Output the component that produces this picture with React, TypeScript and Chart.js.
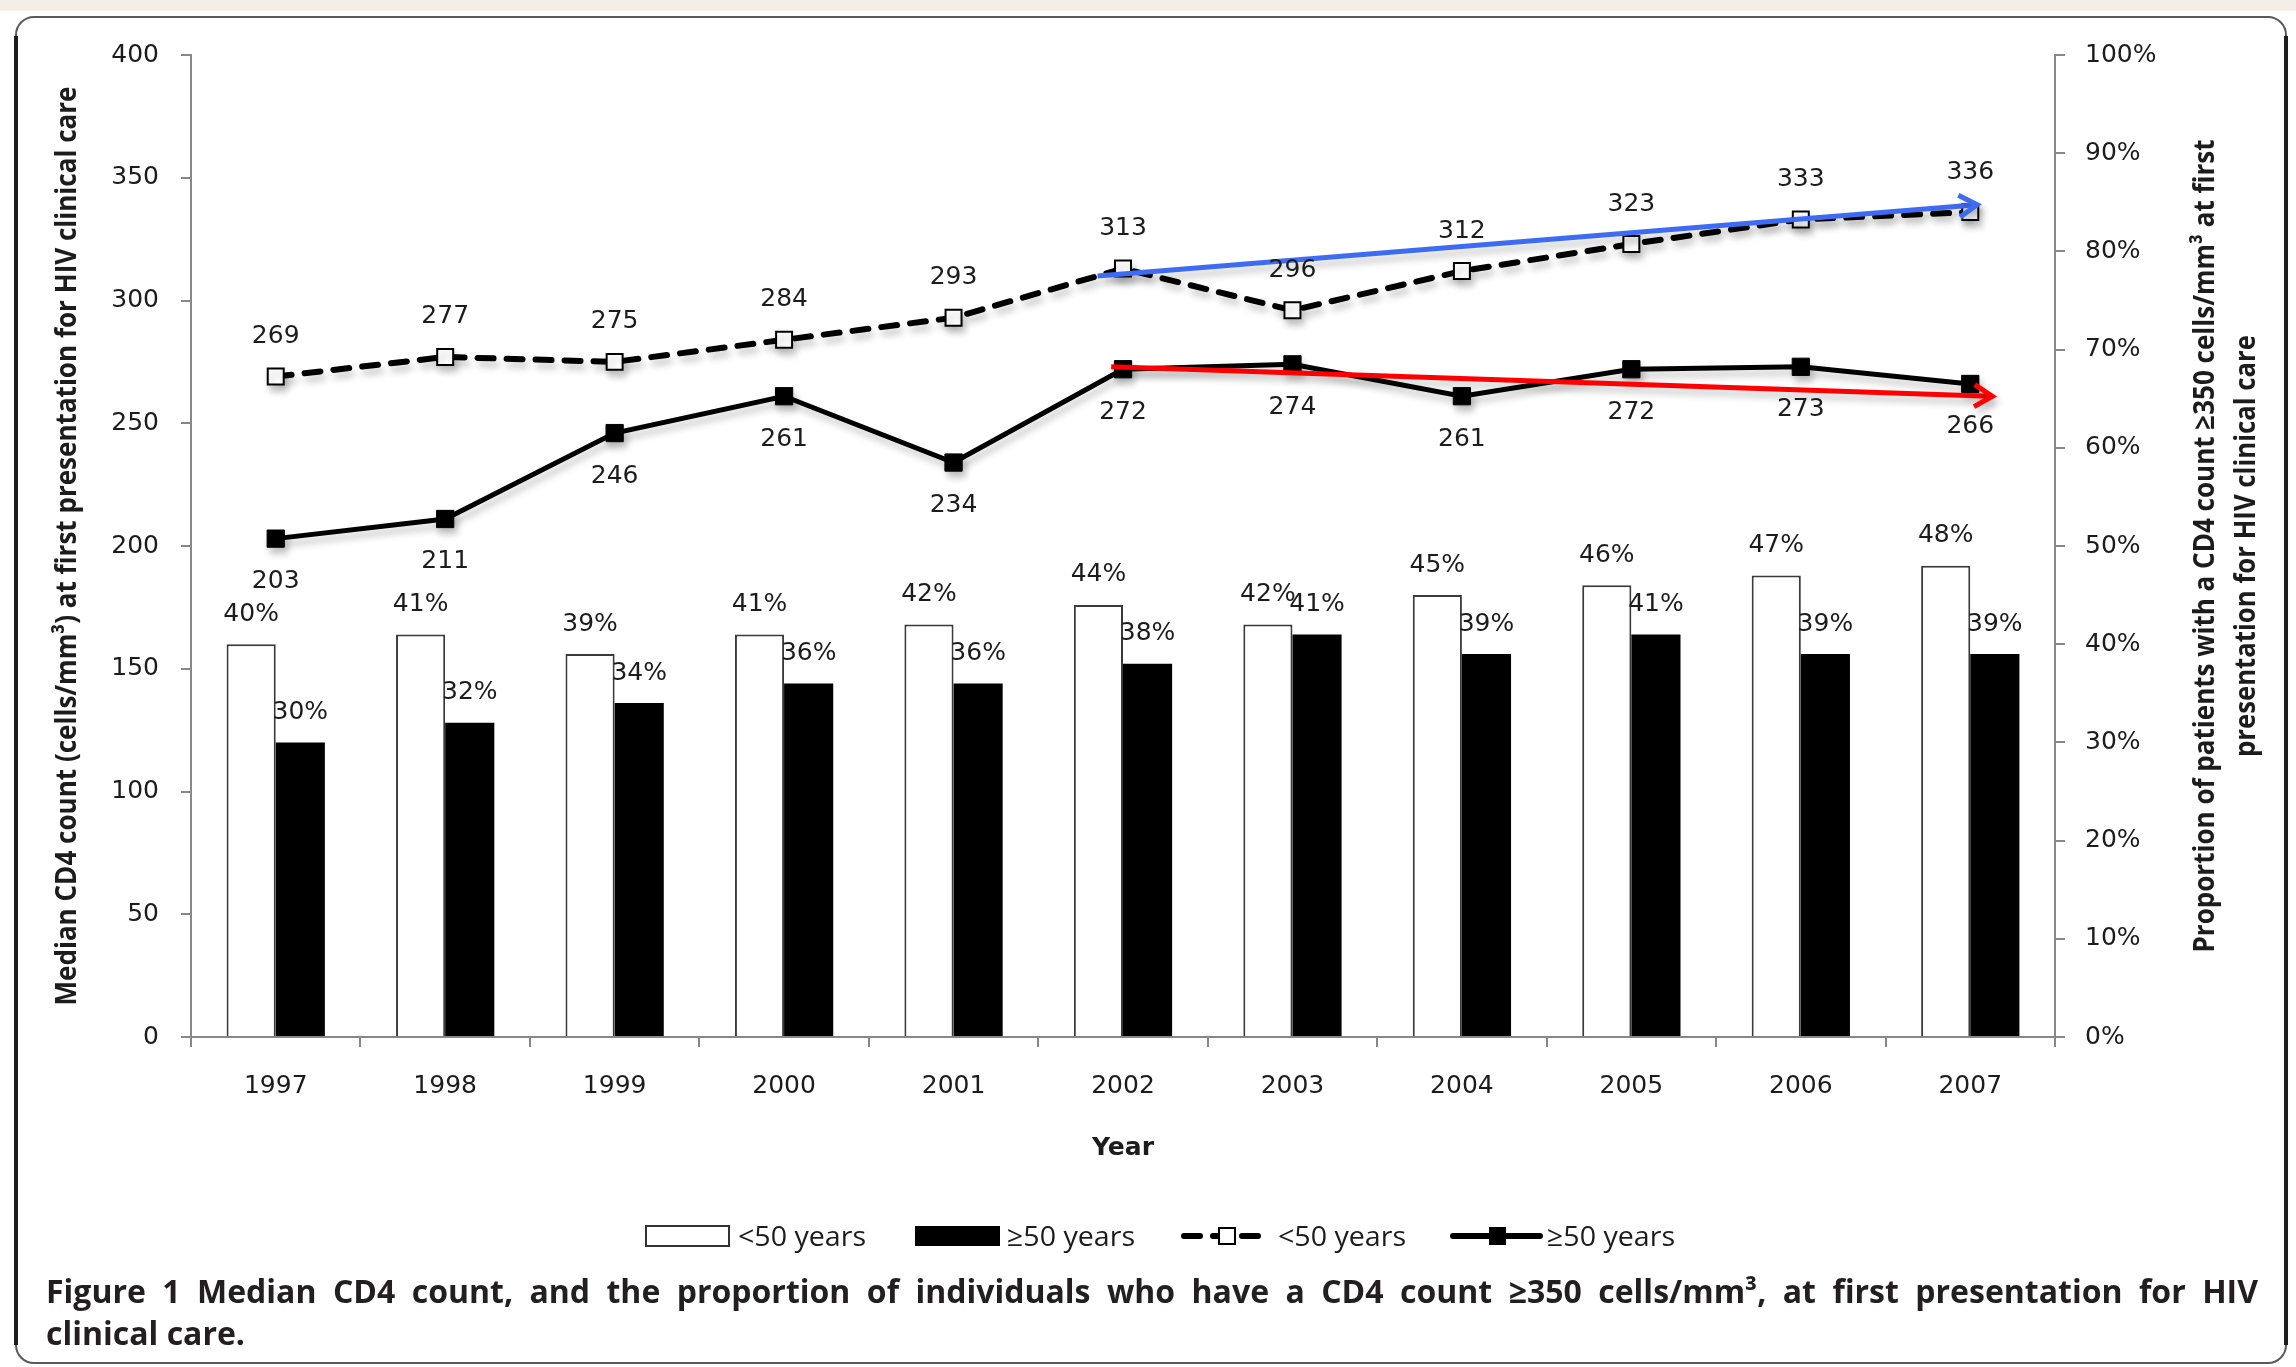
import { useEffect, useRef } from 'react';
import { Chart, registerables } from 'chart.js';

Chart.register(...registerables);

const W = 2296;
const H = 1367;

// Data
const years = ['1997', '1998', '1999', '2000', '2001', '2002', '2003', '2004', '2005', '2006', '2007'];
const pctUnder50 = [40, 41, 39, 41, 42, 44, 42, 45, 46, 47, 48];
const pctOver50 = [30, 32, 34, 36, 36, 38, 41, 39, 41, 39, 39];
const cd4Under50 = [269, 277, 275, 284, 293, 313, 296, 312, 323, 333, 336];
const cd4Over50 = [203, 211, 246, 261, 234, 272, 274, 261, 272, 273, 266];
// Trend arrows: [category index, median CD4] at start and end
const trendUnder50 = [[4.85, 310], [10.04, 339]];
const trendOver50 = [[4.93, 273], [10.13, 261]];

const legendLabels = ['<50 years', '≥50 years', '<50 years', '≥50 years'];
const leftTitle = 'Median CD4 count (cells/mm³) at first presentation for HIV clinical care';
const rightTitleLines = ['Proportion of patients with a CD4 count ≥350 cells/mm³ at first', 'presentation for HIV clinical care'];
const xTitle = 'Year';
const captionLines = [
  'Figure 1 Median CD4 count, and the proportion of individuals who have a CD4 count ≥350 cells/mm³, at first presentation for HIV',
  'clinical care.',
];

const TEXT = '#1c1c1c';
const AXIS = '#878787';
const TICK_FONT = '"DejaVu Sans", sans-serif';
const DASH = [16, 13];

function fitRotated(ctx: CanvasRenderingContext2D, text: string, cx: number, cy: number, len: number) {
  ctx.save();
  ctx.translate(cx, cy);
  ctx.rotate(-Math.PI / 2);
  const w = ctx.measureText(text).width;
  ctx.scale(len / w, 1);
  ctx.textAlign = 'center';
  ctx.textBaseline = 'middle';
  ctx.fillText(text, 0, 0);
  ctx.restore();
}

function fitLeft(ctx: CanvasRenderingContext2D, text: string, x: number, y: number, len: number) {
  ctx.save();
  ctx.translate(x, y);
  const w = ctx.measureText(text).width;
  ctx.scale(len / w, 1);
  ctx.textAlign = 'left';
  ctx.fillText(text, 0, 0);
  ctx.restore();
}

function justify(ctx: CanvasRenderingContext2D, text: string, x: number, y: number, len: number) {
  const words = text.split(' ');
  const widths = words.map((wd) => ctx.measureText(wd).width);
  const total = widths.reduce((a, b) => a + b, 0);
  const space = ctx.measureText(' ').width;
  const natural = total + space * (words.length - 1);
  ctx.textAlign = 'left';
  if (natural > len) {
    ctx.save();
    ctx.translate(x, y);
    ctx.scale(len / natural, 1);
    ctx.fillText(text, 0, 0);
    ctx.restore();
    return;
  }
  const gap = (len - total) / (words.length - 1);
  let cx = x;
  words.forEach((wd, i) => {
    ctx.fillText(wd, cx, y);
    cx += widths[i] + gap;
  });
}

function arrow(ctx: CanvasRenderingContext2D, x0: number, y0: number, x1: number, y1: number, color: string) {
  const ang = Math.atan2(y1 - y0, x1 - x0);
  const L = 21;
  const a = 0.55;
  ctx.strokeStyle = color;
  ctx.lineWidth = 5;
  ctx.lineCap = 'butt';
  ctx.lineJoin = 'miter';
  ctx.beginPath();
  ctx.moveTo(x0, y0);
  ctx.lineTo(x1 - 3 * Math.cos(ang), y1 - 3 * Math.sin(ang));
  ctx.stroke();
  ctx.beginPath();
  ctx.moveTo(x1 - L * Math.cos(ang - a), y1 - L * Math.sin(ang - a));
  ctx.lineTo(x1, y1);
  ctx.lineTo(x1 - L * Math.cos(ang + a), y1 - L * Math.sin(ang + a));
  ctx.stroke();
}

function setShadow(ctx: CanvasRenderingContext2D) {
  ctx.shadowColor = 'rgba(0,0,0,0.22)';
  ctx.shadowBlur = 7;
  ctx.shadowOffsetX = 3;
  ctx.shadowOffsetY = 6;
}

const framePlugin = {
  id: 'frame',
  beforeDraw(chart: any) {
    const ctx = chart.ctx as CanvasRenderingContext2D;
    ctx.save();
    ctx.fillStyle = '#ffffff';
    ctx.fillRect(0, 0, W, H);
    ctx.fillStyle = '#f4ede8';
    ctx.fillRect(0, 0, W, 11);
    ctx.strokeStyle = '#5a5a5a';
    ctx.lineWidth = 2;
    ctx.beginPath();
    ctx.roundRect(16, 17, 2270, 1346, 18);
    ctx.stroke();
    ctx.strokeStyle = '#1e1e1e';
    ctx.lineWidth = 4;
    ctx.beginPath();
    ctx.moveTo(16, 36);
    ctx.lineTo(16, 1345);
    ctx.moveTo(2286, 36);
    ctx.lineTo(2286, 1345);
    ctx.stroke();
    ctx.restore();
  },
};

const shadowPlugin = {
  id: 'lineShadow',
  beforeDatasetDraw(chart: any, args: any) {
    if (args.meta.type === 'line') {
      chart.ctx.save();
      setShadow(chart.ctx);
    }
  },
  afterDatasetDraw(chart: any, args: any) {
    if (args.meta.type === 'line') chart.ctx.restore();
  },
};

const marksPlugin = {
  id: 'marks',
  afterDatasetsDraw(chart: any) {
    const ctx = chart.ctx as CanvasRenderingContext2D;
    const x = chart.scales.x;
    const y = chart.scales.y;
    ctx.save();
    setShadow(ctx);
    const trends: [number[][], string][] = [
      [trendUnder50, '#3d6cf2'],
      [trendOver50, '#ff0000'],
    ];
    trends.forEach(([t, color]) => {
      arrow(
        ctx,
        x.getPixelForValue(t[0][0]),
        y.getPixelForValue(t[0][1]),
        x.getPixelForValue(t[1][0]),
        y.getPixelForValue(t[1][1]),
        color,
      );
    });
    ctx.restore();

    ctx.save();
    ctx.font = `25px ${TICK_FONT}`;
    ctx.fillStyle = TEXT;
    ctx.textAlign = 'center';
    ctx.textBaseline = 'middle';
    chart.data.datasets.forEach((ds: any, i: number) => {
      const meta = chart.getDatasetMeta(i);
      meta.data.forEach((el: any, j: number) => {
        const v = ds.data[j];
        if (meta.type === 'bar') ctx.fillText(`${v}%`, el.x, el.y - 30);
        else ctx.fillText(String(v), el.x, el.y + ds.labelOffset);
      });
    });
    ctx.restore();
  },
};

const textPlugin = {
  id: 'titlesLegendCaption',
  afterDraw(chart: any) {
    const ctx = chart.ctx as CanvasRenderingContext2D;
    const area = chart.chartArea;
    const midY = (area.top + area.bottom) / 2;
    ctx.save();
    ctx.fillStyle = TEXT;

    // axis titles
    ctx.font = 'bold 29px "Open Sans", sans-serif';
    fitRotated(ctx, leftTitle, 68, midY, 919);
    fitRotated(ctx, rightTitleLines[0], 2206, midY, 813);
    fitRotated(ctx, rightTitleLines[1], 2247, midY, 422);
    ctx.font = `bold 25px ${TICK_FONT}`;
    ctx.textAlign = 'center';
    ctx.textBaseline = 'middle';
    ctx.fillText(xTitle, (area.left + area.right) / 2, 1148);

    // legend
    const ly = 1236;
    ctx.lineWidth = 2;
    ctx.strokeStyle = '#333333';
    ctx.fillStyle = '#ffffff';
    ctx.fillRect(646, ly - 10, 83, 20);
    ctx.strokeRect(646, ly - 10, 83, 20);
    ctx.fillStyle = '#000000';
    ctx.fillRect(915, ly - 10, 85, 20);

    ctx.strokeStyle = '#000000';
    ctx.lineWidth = 6;
    ctx.lineCap = 'round';
    ctx.setLineDash(DASH);
    ctx.beginPath();
    ctx.moveTo(1184, ly);
    ctx.lineTo(1270, ly);
    ctx.stroke();
    ctx.setLineDash([]);
    ctx.lineWidth = 2;
    ctx.fillStyle = '#ffffff';
    ctx.fillRect(1219, ly - 8, 16, 16);
    ctx.strokeRect(1219, ly - 8, 16, 16);

    ctx.lineWidth = 6;
    ctx.beginPath();
    ctx.moveTo(1453, ly);
    ctx.lineTo(1540, ly);
    ctx.stroke();
    ctx.fillStyle = '#000000';
    ctx.fillRect(1489, ly - 9, 17, 18);

    ctx.fillStyle = TEXT;
    ctx.font = '28px "Open Sans", sans-serif';
    ctx.textBaseline = 'alphabetic';
    const lx = [738, 1007, 1278, 1547];
    legendLabels.forEach((t, i) => fitLeft(ctx, t, lx[i], ly + 10, 128));

    // caption
    ctx.font = 'bold 32px "Open Sans", sans-serif';
    ctx.fillStyle = '#231f20';
    justify(ctx, captionLines[0], 46, 1303, 2212);
    ctx.textAlign = 'left';
    ctx.fillText(captionLines[1], 46, 1345);
    ctx.restore();
  },
};

export default function App() {
  const ref = useRef<HTMLCanvasElement>(null);

  useEffect(() => {
    document.body.style.margin = '0';
    const canvas = ref.current;
    if (!canvas) return;
    const tickFont = { family: TICK_FONT, size: 25 };
    const chart = new Chart(canvas, {
      type: 'bar',
      data: {
        labels: years,
        datasets: [
          {
            type: 'line',
            label: '<50 years',
            data: cd4Under50,
            yAxisID: 'y',
            order: 0,
            borderColor: '#000000',
            borderWidth: 6,
            borderDash: DASH,
            borderCapStyle: 'round',
            tension: 0,
            pointStyle: 'rect',
            pointRadius: 11.3,
            pointBorderWidth: 2,
            pointBorderColor: '#000000',
            pointBackgroundColor: '#ffffff',
            labelOffset: -40,
          } as any,
          {
            type: 'line',
            label: '≥50 years',
            data: cd4Over50,
            yAxisID: 'y',
            order: 0,
            borderColor: '#000000',
            borderWidth: 5,
            tension: 0,
            pointStyle: 'rect',
            pointRadius: 12.2,
            pointBorderWidth: 1,
            pointBorderColor: '#000000',
            pointBackgroundColor: '#000000',
            labelOffset: 43,
          } as any,
          {
            type: 'bar',
            label: '<50 years',
            data: pctUnder50,
            yAxisID: 'y1',
            order: 1,
            backgroundColor: '#ffffff',
            borderColor: '#3a3a3a',
            borderWidth: 2,
            categoryPercentage: 0.58,
            barPercentage: 1.0,
          },
          {
            type: 'bar',
            label: '≥50 years',
            data: pctOver50,
            yAxisID: 'y1',
            order: 1,
            backgroundColor: '#000000',
            borderWidth: 0,
            categoryPercentage: 0.58,
            barPercentage: 1.0,
          },
        ],
      },
      options: {
        responsive: false,
        animation: false,
        devicePixelRatio: 1,
        layout: { padding: { left: 100, right: 100, top: 55, bottom: 180 } },
        plugins: {
          legend: { display: false },
          tooltip: { enabled: false },
        },
        scales: {
          x: {
            type: 'category',
            offset: true,
            grid: {
              display: true,
              drawOnChartArea: false,
              drawTicks: true,
              tickLength: 10,
              color: AXIS,
              lineWidth: 2,
              offset: true,
            },
            border: { display: true, color: AXIS, width: 2 },
            ticks: { font: tickFont, color: TEXT, padding: 24, maxRotation: 0, autoSkip: false },
            afterFit: (s: any) => {
              s.height = 150;
            },
          },
          y: {
            position: 'left',
            min: 0,
            max: 400,
            grid: { display: true, drawOnChartArea: false, tickLength: 10, color: AXIS, lineWidth: 2 },
            border: { display: true, color: AXIS, width: 2 },
            ticks: { stepSize: 50, font: tickFont, color: TEXT, padding: 22 },
            afterFit: (s: any) => {
              s.width = 91;
            },
          },
          y1: {
            position: 'right',
            min: 0,
            max: 100,
            grid: { display: true, drawOnChartArea: false, tickLength: 10, color: AXIS, lineWidth: 2 },
            border: { display: true, color: AXIS, width: 2 },
            ticks: { stepSize: 10, font: tickFont, color: TEXT, padding: 20, callback: (v: any) => `${v}%` },
            afterFit: (s: any) => {
              s.width = 141;
            },
          },
        },
      },
      plugins: [framePlugin, shadowPlugin, marksPlugin, textPlugin],
    });
    return () => chart.destroy();
  }, []);

  return (
    <div style={{ width: W, height: H, position: 'relative' }}>
      <canvas ref={ref} width={W} height={H} style={{ display: 'block', width: W, height: H }} />
    </div>
  );
}
